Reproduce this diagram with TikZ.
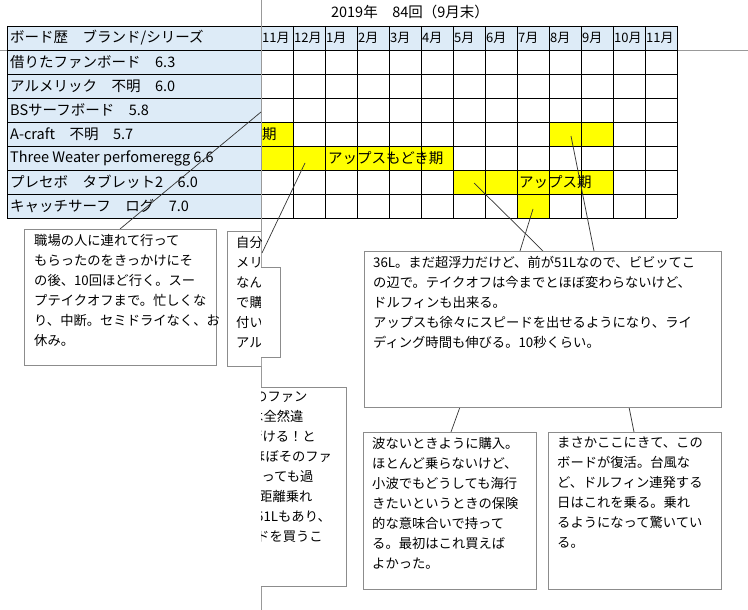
\documentclass[tikz,border=0pt]{standalone}
\usepackage{fontspec}
\setmainfont{Noto Sans CJK JP}
\begin{document}
\begin{tikzpicture}[x=1pt,y=-1pt,
  cell/.style={inner sep=0pt,anchor=west,font=\fontsize{14.5}{16}\selectfont},
  mon/.style={inner sep=0pt,anchor=west,font=\fontsize{13}{15}\selectfont},
  note/.style={draw=gray!90,line width=0.8pt,fill=white},
  ntext/.style={inner sep=0pt,anchor=north west,align=left,font=\fontsize{13.3}{20}\selectfont},
  conn/.style={draw=black!80,line width=0.7pt}]
\useasboundingbox (0,0) rectangle (748,610);
\definecolor{hdr}{HTML}{DDEBF7}
\definecolor{yel}{HTML}{FFFF00}
\draw[gray!80,line width=0.8pt] (0,50) -- (748,50);
\fill[hdr] (7,26) rectangle (677,50);
\fill[hdr] (7,50) rectangle (261,218);
\fill[yel] (261,122) rectangle (293,146);
\fill[yel] (549,122) rectangle (613,146);
\fill[yel] (261,146) rectangle (453,170);
\fill[yel] (453,170) rectangle (613,194);
\fill[yel] (517,194) rectangle (549,218);
\foreach \y in {26,50,...,218} \draw[line width=0.8pt] (7,\y) -- (677,\y);
\draw[line width=0.8pt] (7,26) -- (7,218);
\foreach \x in {261,293,...,677} \draw[line width=0.8pt] (\x,26) -- (\x,218);
\begin{scope}\clip (261,122) rectangle (293,146);
\node[cell] (ki) at (262,134) {期};\end{scope}
\node[cell] (t0) at (410,12) [anchor=center] {2019年　84回（9月末）};
\node[cell] (h0) at (10,38) {ボード歴　ブランド/シリーズ};
\node[cell] (r1) at (10,62) {借りたファンボード　6.3};
\node[cell] (r2) at (10,86) {アルメリック　不明　6.0};
\node[cell] (r3) at (10,110) {BSサーフボード　5.8};
\node[cell] (r4) at (10,134) {A-craft　不明　5.7};
\node[cell] (r5) at (10,158) {Three Weater perfomeregg 6.6};
\node[cell] (r6) at (10,182) {プレセボ　タブレット2　6.0};
\node[cell] (r7) at (10,206) {キャッチサーフ　ログ　7.0};
\foreach \m [count=\i from 0] in {11月,12月,1月,2月,3月,4月,5月,6月,7月,8月,9月,10月,11月}
  \node[mon] (m\i) at (262+32*\i,38) {\m};
\node[cell] (ap1) at (328,158) {アップスもどき期};
\node[cell] (ap2) at (519,182) {アップス期};
\draw[gray!80,line width=0.8pt] (261,0) -- (261,610);
\coordinate (c1) at (261,112);
\coordinate (c2) at (305,163);
\coordinate (c3) at (533,209);
\coordinate (c4) at (474,183);
\coordinate (c5) at (571,136);
\coordinate (b1t) at (120,229);
\coordinate (b2t) at (262,253);
\coordinate (b4a) at (520,251);
\coordinate (b4b) at (543,251);
\coordinate (b4c) at (594,251);
\coordinate (b4d) at (460,407);
\coordinate (b4e) at (629,407);
\coordinate (b5t) at (451,432);
\coordinate (b6t) at (634,432);
\draw[conn] (b1t) -- (c1);
\draw[conn] (b2t) -- (c2);
\draw[conn] (b4a) -- (c3);
\draw[conn] (b4b) -- (c4);
\draw[conn] (b4c) -- (c5);
\draw[conn] (b4d) -- (b5t);
\draw[conn] (b4e) -- (b6t);
\draw[note] (24,229) rectangle (216,365);
\node[ntext] (n1) at (34,234) {職場の人に連れて行って\\もらったのをきっかけにそ\\の後、10回ほど行く。スー\\プテイクオフまで。忙しくな\\り、中断。セミドライなく、お\\休み。};
\begin{scope}\clip (200,220) rectangle (261,380);
\draw[note] (227,231) rectangle (300,366);
\node[ntext] (n2) at (236,236) {自分\\メリ\\なん\\で購\\付い\\アル};
\end{scope}
\begin{scope}\clip (261,220) rectangle (748,610);
\draw[note] (230,267) rectangle (280,357);
\draw[note] (200,387) rectangle (346,586);
\node[ntext] (n3) at (251,392) {\hspace{3pt}のファン\\\hspace{-1pt}は全然違\\\hspace{-2pt}行ける！と\\\hspace{1pt}ほぼそのファ\\\hspace{-3pt}いっても過\\\hspace{8pt}距離乗れ\\\hspace{5pt}51Lもあり、\\\hspace{5pt}ドを買うこ};
\end{scope}
\draw[note] (364,251) rectangle (721,407);
\node[ntext] (n4) at (373,256) {36L。まだ超浮力だけど、前が51Lなので、ビビッてこ\\の辺で。テイクオフは今までとほぼ変わらないけど、\\ドルフィンも出来る。\\アップスも徐々にスピードを出せるようになり、ライ\\ディング時間も伸びる。10秒くらい。};
\draw[note] (363,432) rectangle (536,589);
\node[ntext] (n5) at (372,437) {波ないときように購入。\\ほとんど乗らないけど、\\小波でもどうしても海行\\きたいというときの保険\\的な意味合いで持って\\る。最初はこれ買えば\\よかった。};
\draw[note] (548,432) rectangle (721,589);
\node[ntext] (n6) at (557,437) {まさかここにきて、この\\ボードが復活。台風な\\ど、ドルフィン連発する\\日はこれを乗る。乗れ\\るようになって驚いてい\\る。};
\end{tikzpicture}
\end{document}
